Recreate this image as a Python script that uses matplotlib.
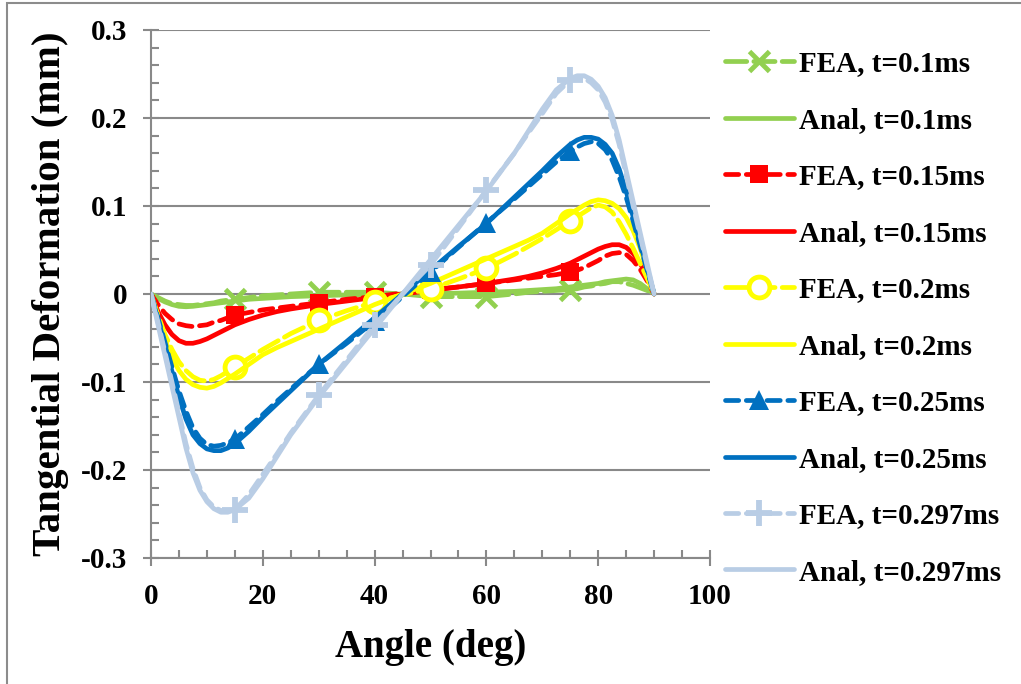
import matplotlib
matplotlib.use("Agg")
import matplotlib.pyplot as plt
from matplotlib.ticker import MultipleLocator
from matplotlib.patches import Rectangle

# Angular positions (deg) of the sampled points
angle = [0, 1.25, 2.5, 3.75, 5, 6.25, 7.5, 8.75, 10, 11.25,
         12.5, 13.75, 15, 17.5, 20, 22.5, 25, 30, 35, 40,
         45, 50, 55, 60, 65, 67.5, 70, 72.5, 75, 76.25,
         77.5, 78.75, 80, 81.25, 82.5, 83.75, 85, 86.25, 87.5, 88.75,
         90]

# FEA results (mm)
fea_010 = [0, -0.004, -0.008, -0.011, -0.012, -0.013, -0.013, -0.012, -0.011, -0.010,
           -0.008, -0.007, -0.006, -0.004, -0.002, -0.001, 0.000, 0.002, 0.002, 0.002,
           0.000, -0.003, -0.003, -0.003, 0.000, 0.002, 0.003, 0.004, 0.005, 0.006,
           0.008, 0.009, 0.011, 0.012, 0.014, 0.014, 0.012, 0.010, 0.007, 0.004,
           0]
fea_015 = [0, -0.012, -0.022, -0.029, -0.034, -0.036, -0.037, -0.036, -0.035, -0.032,
           -0.030, -0.027, -0.024, -0.021, -0.018, -0.016, -0.014, -0.010, -0.006, -0.003,
           0.001, 0.005, 0.008, 0.012, 0.016, 0.018, 0.020, 0.022, 0.025, 0.027,
           0.030, 0.034, 0.038, 0.043, 0.046, 0.047, 0.045, 0.038, 0.028, 0.015,
           0]
fea_020 = [0, -0.024, -0.046, -0.063, -0.077, -0.087, -0.094, -0.098, -0.099, -0.097,
           -0.093, -0.088, -0.083, -0.073, -0.063, -0.054, -0.045, -0.030, -0.019, -0.009,
           -0.001, 0.006, 0.017, 0.029, 0.045, 0.054, 0.063, 0.073, 0.083, 0.088,
           0.093, 0.098, 0.101, 0.099, 0.093, 0.082, 0.068, 0.052, 0.035, 0.018,
           0]
fea_025 = [0, -0.027, -0.055, -0.083, -0.110, -0.133, -0.152, -0.164, -0.171, -0.173,
           -0.172, -0.169, -0.165, -0.151, -0.137, -0.122, -0.108, -0.080, -0.056, -0.031,
           -0.003, 0.025, 0.053, 0.081, 0.108, 0.122, 0.136, 0.150, 0.162, 0.167,
           0.171, 0.173, 0.171, 0.164, 0.152, 0.133, 0.110, 0.083, 0.055, 0.027,
           0]
fea_0297 = [0, -0.032, -0.066, -0.100, -0.135, -0.170, -0.198, -0.220, -0.234, -0.242,
            -0.246, -0.246, -0.245, -0.228, -0.205, -0.182, -0.158, -0.115, -0.075, -0.035,
            0.000, 0.033, 0.075, 0.118, 0.160, 0.183, 0.205, 0.228, 0.243, 0.246,
            0.245, 0.240, 0.232, 0.218, 0.198, 0.170, 0.135, 0.100, 0.066, 0.032,
            0]

# Analytical results (mm)
anal_010 = [0, -0.005, -0.009, -0.012, -0.014, -0.0145, -0.014, -0.013, -0.012, -0.011,
            -0.010, -0.009, -0.008, -0.006, -0.005, -0.004, -0.003, -0.002, -0.001, -0.0005,
            0.000, 0.0005, 0.001, 0.002, 0.003, 0.004, 0.005, 0.006, 0.008, 0.009,
            0.010, 0.011, 0.012, 0.014, 0.015, 0.016, 0.017, 0.016, 0.012, 0.006,
            0]
anal_015 = [0, -0.020, -0.035, -0.046, -0.053, -0.056, -0.056, -0.054, -0.051, -0.047,
            -0.043, -0.039, -0.035, -0.029, -0.024, -0.020, -0.017, -0.012, -0.008, -0.004,
            0.000, 0.004, 0.008, 0.012, 0.017, 0.020, 0.024, 0.029, 0.035, 0.039,
            0.043, 0.047, 0.051, 0.054, 0.056, 0.056, 0.053, 0.046, 0.035, 0.020,
            0]
anal_020 = [0, -0.028, -0.052, -0.072, -0.087, -0.097, -0.103, -0.106, -0.107, -0.105,
            -0.101, -0.096, -0.091, -0.080, -0.069, -0.061, -0.054, -0.040, -0.026, -0.012,
            0.000, 0.012, 0.026, 0.040, 0.054, 0.061, 0.069, 0.080, 0.091, 0.096,
            0.101, 0.105, 0.107, 0.106, 0.103, 0.097, 0.087, 0.072, 0.052, 0.028,
            0]
anal_025 = [0, -0.029, -0.058, -0.088, -0.117, -0.142, -0.160, -0.170, -0.176, -0.178,
            -0.178, -0.175, -0.170, -0.156, -0.140, -0.125, -0.110, -0.080, -0.054, -0.027,
            0.000, 0.027, 0.054, 0.080, 0.110, 0.125, 0.140, 0.156, 0.170, 0.175,
            0.178, 0.178, 0.176, 0.170, 0.160, 0.142, 0.117, 0.088, 0.058, 0.029,
            0]
anal_0297 = [0, -0.035, -0.070, -0.105, -0.140, -0.175, -0.203, -0.223, -0.236, -0.244,
             -0.248, -0.248, -0.245, -0.232, -0.210, -0.185, -0.160, -0.117, -0.078, -0.039,
             0.000, 0.039, 0.078, 0.117, 0.160, 0.185, 0.210, 0.232, 0.245, 0.248,
             0.248, 0.244, 0.236, 0.223, 0.203, 0.175, 0.140, 0.105, 0.070, 0.035,
             0]

# Angles at which FEA markers are shown
marker_angles = [15, 30, 40, 50, 60, 75]

labels = ["FEA, t=0.1ms", "Anal, t=0.1ms", "FEA, t=0.15ms", "Anal, t=0.15ms",
          "FEA, t=0.2ms", "Anal, t=0.2ms", "FEA, t=0.25ms", "Anal, t=0.25ms",
          "FEA, t=0.297ms", "Anal, t=0.297ms"]

colors = ["#92D050", "#FF0000", "#FFFF00", "#0070C0", "#B9CDE5"]

plt.rcParams["font.family"] = ["Liberation Serif", "DejaVu Serif"]
plt.rcParams["font.weight"] = "bold"

fig = plt.figure(figsize=(10.21, 6.84), dpi=100)
ax = fig.add_axes([151 / 1021, 1 - 558 / 684, (710 - 151) / 1021, (558 - 30) / 684])

mark_idx = [angle.index(a) for a in marker_angles]
lw = 3.4
long_dash = (4.5, 1.5)
short_dash = (2.8, 1.6)

series = [
    (fea_010, anal_010, colors[0], dict(marker="x", markersize=14, markeredgewidth=3.5,
                                        markerfacecolor=colors[0]), long_dash),
    (fea_015, anal_015, colors[1], dict(marker="s", markersize=13, markeredgewidth=0,
                                        markerfacecolor=colors[1]), short_dash),
    (fea_020, anal_020, colors[2], dict(marker="o", markersize=15, markeredgewidth=3.5,
                                        markerfacecolor="white"), long_dash),
    (fea_025, anal_025, colors[3], dict(marker="^", markersize=15, markeredgewidth=0,
                                        markerfacecolor=colors[3]), short_dash),
    (fea_0297, anal_0297, colors[4], dict(marker="+", markersize=19, markeredgewidth=4.2,
                                          markerfacecolor=colors[4]), short_dash),
]

handles = []
for k, (fea, anal, col, mk, dash) in enumerate(series):
    h1, = ax.plot(angle, fea, color=col, lw=lw, dashes=dash, markevery=mark_idx,
                  markeredgecolor=col, zorder=3 + k, solid_capstyle="round",
                  dash_capstyle="round", dash_joinstyle="round", **mk)
    h2, = ax.plot(angle, anal, color=col, lw=lw, zorder=3 + k,
                  solid_capstyle="round", solid_joinstyle="round")
    handles += [h1, h2]

ax.set_xlim(0, 100)
ax.set_ylim(-0.3, 0.3)
ax.xaxis.set_major_locator(MultipleLocator(20))
ax.xaxis.set_minor_locator(MultipleLocator(5))
ax.yaxis.set_minor_locator(MultipleLocator(0.02))
ax.set_yticks([-0.3, -0.2, -0.1, 0, 0.1, 0.2, 0.3])
ax.set_yticklabels(["-0.3", "-0.2", "-0.1", "0", "0.1", "0.2", "0.3"])

grid_col = "#898989"
ax.grid(axis="y", which="major", color=grid_col, lw=1.5, zorder=1)
ax.set_axisbelow(True)
for s in ["top", "right"]:
    ax.spines[s].set_visible(False)
for s in ["left", "bottom"]:
    ax.spines[s].set_color(grid_col)
    ax.spines[s].set_linewidth(1.5)

ax.tick_params(which="major", direction="inout", length=12, width=1.5, color=grid_col,
               labelsize=21)
ax.tick_params(axis="y", which="major", pad=11)
ax.tick_params(axis="x", which="major", pad=12)
ax.tick_params(which="minor", direction="in", length=6, width=1.5, color=grid_col)
for t in ax.get_xticklabels() + ax.get_yticklabels():
    t.set_fontweight("bold")

ax.set_xlabel("Angle (deg)", fontsize=28, fontweight="bold", labelpad=14)
ax.set_ylabel("Tangential Deformation (mm)", fontsize=29.5, fontweight="bold", labelpad=9)

leg = ax.legend(handles, labels, loc="upper left", bbox_to_anchor=(1.003, 0.986),
                frameon=False, handlelength=2.36, handletextpad=0.17,
                labelspacing=1.01, borderaxespad=0.05, numpoints=1,
                prop={"weight": "bold", "size": 21})

fig.add_artist(Rectangle((7 / 1021, -0.05), 1.2, 1 - 3 / 684 + 0.05,
                         transform=fig.transFigure, fill=False,
                         edgecolor="#8c8c8c", lw=1.5))

fig.savefig("out.png", dpi=100)
